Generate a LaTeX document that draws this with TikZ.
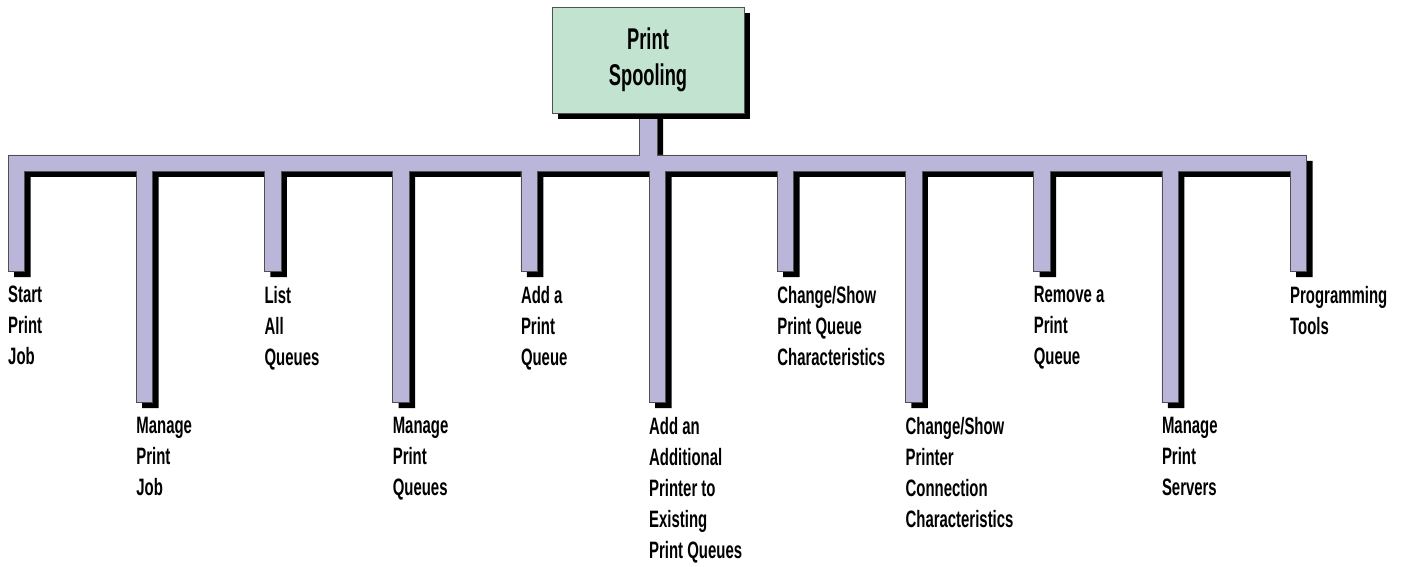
\documentclass[tikz,border=0pt]{standalone}
\usepackage{fontspec}
\setmainfont{Liberation Sans}
\newfontfamily\lblfont{Liberation Sans Bold}[FakeStretch=0.63]
\newfontfamily\ttlfont{Liberation Sans Bold}[FakeStretch=0.61]
\definecolor{barfill}{RGB}{186,182,218}
\definecolor{boxfill}{RGB}{194,227,207}
\definecolor{edge}{RGB}{80,80,80}
\newcommand\barshape{(8,155) -- (639,155) -- (639,113) -- (657,113) -- (657,155) -- (1306.5,155) -- (1306.5,271) -- (1290,271) -- (1290,171)
  foreach \x/\b in {1161.8/402,1033.6/271,905.4/402,777.2/271,649/402,520.8/271,392.6/402,264.4/271,136.2/402}
  { -- ({\x+16.5},171) -- ({\x+16.5},\b) -- (\x,\b) -- (\x,171) }
  -- (24.5,171) -- (24.5,271) -- (8,271) -- cycle}
\tikzset{
  lbl/.style={anchor=north west, inner sep=0pt, align=left, font=\lblfont\fontsize{23.7}{31}\selectfont},
  rootbox/.style={draw=edge, line width=0.6pt, fill=boxfill, minimum width=192pt, minimum height=106pt, inner sep=0pt, align=center, font=\ttlfont\fontsize{30}{36}\selectfont}
}
\begin{document}
\begin{tikzpicture}[x=1pt,y=-1pt]
\useasboundingbox (0,0) rectangle (1406,567);
% shadow of bar structure
\fill[black,xshift=6pt,yshift=-6pt] \barshape;
\filldraw[fill=barfill,draw=edge,line width=0.6pt] \barshape;
% root box with shadow
\fill[black] (558,13) rectangle (750,119);
\node[rootbox] (root) at (648,60) {Print\\Spooling};
% labels
\node[lbl] (l0) at (8,286) {Start\\Print\\Job};
\node[lbl] (l1) at (136.2,417) {Manage\\Print\\Job};
\node[lbl] (l2) at (264.4,286) {List\\All\\Queues};
\node[lbl] (l3) at (392.6,417) {Manage\\Print\\Queues};
\node[lbl] (l4) at (520.8,286) {Add a\\Print\\Queue};
\node[lbl] (l5) at (649,417) {Add an\\Additional\\Printer to\\Existing\\Print Queues};
\node[lbl] (l6) at (777.2,286) {Change/Show\\Print Queue\\Characteristics};
\node[lbl] (l7) at (905.4,417) {Change/Show\\Printer\\Connection\\Characteristics};
\node[lbl] (l8) at (1033.6,286) {Remove a\\Print\\Queue};
\node[lbl] (l9) at (1161.8,417) {Manage\\Print\\Servers};
\node[lbl] (l10) at (1290,286) {Programming\\Tools};
\end{tikzpicture}
\end{document}
